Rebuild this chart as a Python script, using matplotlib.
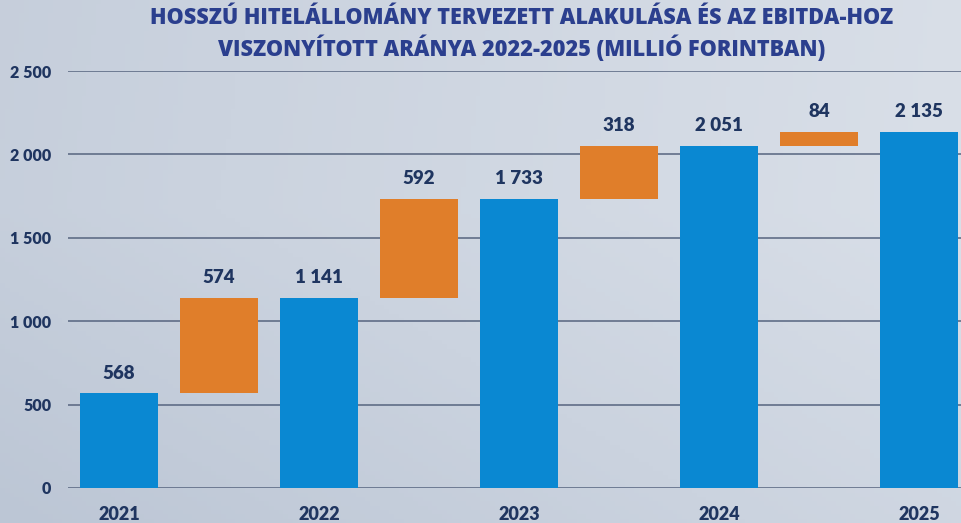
import numpy as np
import matplotlib
matplotlib.use("Agg")
import matplotlib.pyplot as plt
from matplotlib.colors import LinearSegmentedColormap

# ---- data ----
years = ["2021", "2022", "2023", "2024", "2025"]
totals = [568, 1141, 1733, 2051, 2135]
increments = [574, 592, 318, 84]
yticks = [0, 500, 1000, 1500, 2000, 2500]
ytick_labels = ["0", "500", "1 000", "1 500", "2 000", "2 500"]
title = "HOSSZÚ HITELÁLLOMÁNY TERVEZETT ALAKULÁSA ÉS AZ EBITDA-HOZ\nVISZONYÍTOTT ARÁNYA 2022-2025 (MILLIÓ FORINTBAN)"

def fmt(v):
    return f"{v:,}".replace(",", " ")

BLUE = "#0a88d2"
ORANGE = "#e07e2a"
NAVY = "#1f3560"
TITLE_C = "#2b3f8e"
GRID = "#56647f"
NUMFONT = ["Lato", "DejaVu Sans"]

fig = plt.figure(figsize=(9.61, 5.23), dpi=100)

# background gradient
bg = fig.add_axes([0, 0, 1, 1], zorder=-10)
bg.axis("off")
cmap = LinearSegmentedColormap.from_list("bg", ["#bcc6d5", "#cbd3df", "#d9dfe8"])
xx, yy = np.meshgrid(np.linspace(0, 1, 200), np.linspace(0, 1, 120))
grad = 0.6 * xx + 0.25 * yy + 0.15 * (1 - np.abs(yy - 0.6) * 2)
bg.imshow(grad, cmap=cmap, aspect="auto", extent=[0, 1, 0, 1], origin="lower")

ax = fig.add_axes([68 / 961, 1 - 488 / 523, (961 - 68) / 961, (488 - 71) / 523])
ax.patch.set_alpha(0)

w = 0.78
# blue totals at even positions, orange increments at odd positions
xb = np.arange(len(totals)) * 2
ax.bar(xb, totals, width=w, color=BLUE, zorder=3)
for i, v in enumerate(totals):
    ax.text(xb[i], v + 70, fmt(v), ha="center", va="bottom", fontsize=13.5,
            fontweight="heavy", color=NAVY, family=NUMFONT)

xo = np.arange(len(increments)) * 2 + 1
bottoms = totals[:-1]
ax.bar(xo, increments, bottom=bottoms, width=w, color=ORANGE, zorder=3)
for i, v in enumerate(increments):
    ax.text(xo[i], bottoms[i] + v + 70, fmt(v), ha="center", va="bottom", fontsize=13.5,
            fontweight="heavy", color=NAVY, family=NUMFONT)

ax.set_ylim(0, 2500)
ax.set_xlim(-0.51, 8.42)
ax.set_yticks(yticks)
ax.set_yticklabels(ytick_labels, fontsize=11.5, fontweight="heavy", color=NAVY, family=NUMFONT)
ax.set_xticks(xb)
ax.set_xticklabels(years, fontsize=13, fontweight="heavy", color=NAVY, family=NUMFONT)
ax.tick_params(axis="y", length=0, pad=12)
ax.tick_params(axis="x", length=0, pad=13)
ax.grid(axis="y", color=GRID, linewidth=1.1, zorder=0)
for s in ax.spines.values():
    s.set_visible(False)

fig.text(0.543, 0.988, title, ha="center", va="top", fontsize=15.6, fontweight="heavy",
         color=TITLE_C, family=["Open Sans", "DejaVu Sans"], linespacing=1.25)

fig.savefig("out.png", dpi=100)
